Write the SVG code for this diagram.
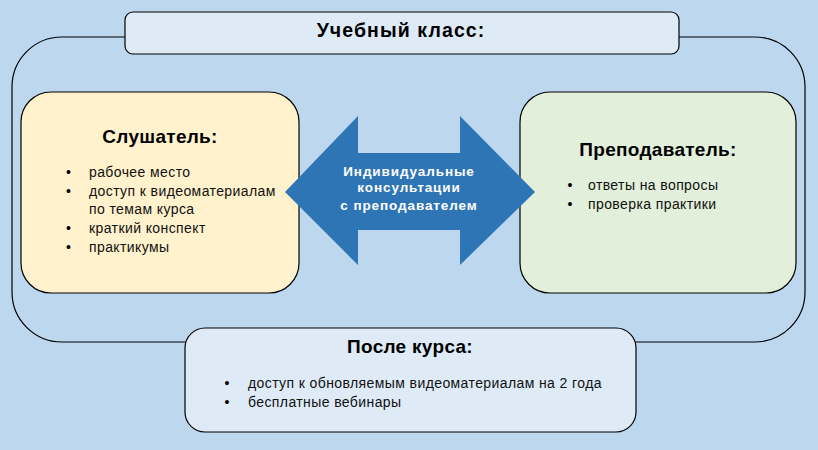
<svg xmlns="http://www.w3.org/2000/svg" width="818" height="450" viewBox="0 0 818 450">
<style>
.box{stroke:#000;stroke-width:1.2}
.t{font-family:"Liberation Sans",Arial,sans-serif;font-weight:bold;font-size:19px;letter-spacing:0.3px;text-anchor:middle;fill:#000}
.b{font-family:"Liberation Sans",Arial,sans-serif;font-size:14px;letter-spacing:0.4px;fill:#111}
.d{font-family:"Liberation Sans",Arial,sans-serif;font-size:14px;text-anchor:middle;fill:#000}
.w{font-family:"Liberation Sans",Arial,sans-serif;font-weight:bold;font-size:13.5px;letter-spacing:0.9px;text-anchor:middle;fill:#fff}
</style>
<rect width="818" height="450" fill="#BDD7EE"/>
<g id="frame">
<rect x="12" y="37" width="793" height="305" rx="50" ry="50" fill="none" stroke="#000" stroke-width="1.2"/>
</g>
<g id="title">
<rect class="box" x="125" y="12" width="554" height="42" rx="8" fill="#DEEBF7"/>
<text class="t" x="401" y="37" style="font-size:19.5px;letter-spacing:1.1px">Учебный класс:</text>
</g>
<g id="student">
<rect class="box" x="21" y="92" width="278" height="201" rx="30" fill="#FFF2CC"/>
<text class="t" x="160" y="143">Слушатель:</text>
<text class="d" x="68.5" y="177">•</text><text class="b" x="89" y="177">рабочее место</text>
<text class="d" x="68.5" y="196">•</text><text class="b" x="89" y="196">доступ к видеоматериалам</text>
<text class="b" x="89" y="214">по темам курса</text>
<text class="d" x="68.5" y="233">•</text><text class="b" x="89" y="233">краткий конспект</text>
<text class="d" x="68.5" y="252">•</text><text class="b" x="89" y="252">практикумы</text>
</g>
<g id="teacher">
<rect class="box" x="520" y="92" width="276" height="201" rx="30" fill="#E2EFDA"/>
<text class="t" x="658" y="156">Преподаватель:</text>
<text class="d" x="570" y="190">•</text><text class="b" x="588" y="190">ответы на вопросы</text>
<text class="d" x="570" y="209">•</text><text class="b" x="588" y="209">проверка практики</text>
</g>
<g id="connectors">
<polygon points="285,192 358,116 358,153 460,153 460,116 535,192 460,265 460,230 358,230 358,265" fill="#2E75B6"/>
<text class="w" x="409" y="176">Индивидуальные</text>
<text class="w" x="409" y="192">консультации</text>
<text class="w" x="409" y="210">с преподавателем</text>
</g>
<g id="after">
<rect class="box" x="185" y="328" width="451" height="104" rx="20" fill="#DEEBF7"/>
<text class="t" x="410" y="353">После курса:</text>
<text class="d" x="227" y="388">•</text><text class="b" x="248" y="388">доступ к обновляемым видеоматериалам на 2 года</text>
<text class="d" x="227" y="407">•</text><text class="b" x="248" y="407">бесплатные вебинары</text>
</g>
</svg>
